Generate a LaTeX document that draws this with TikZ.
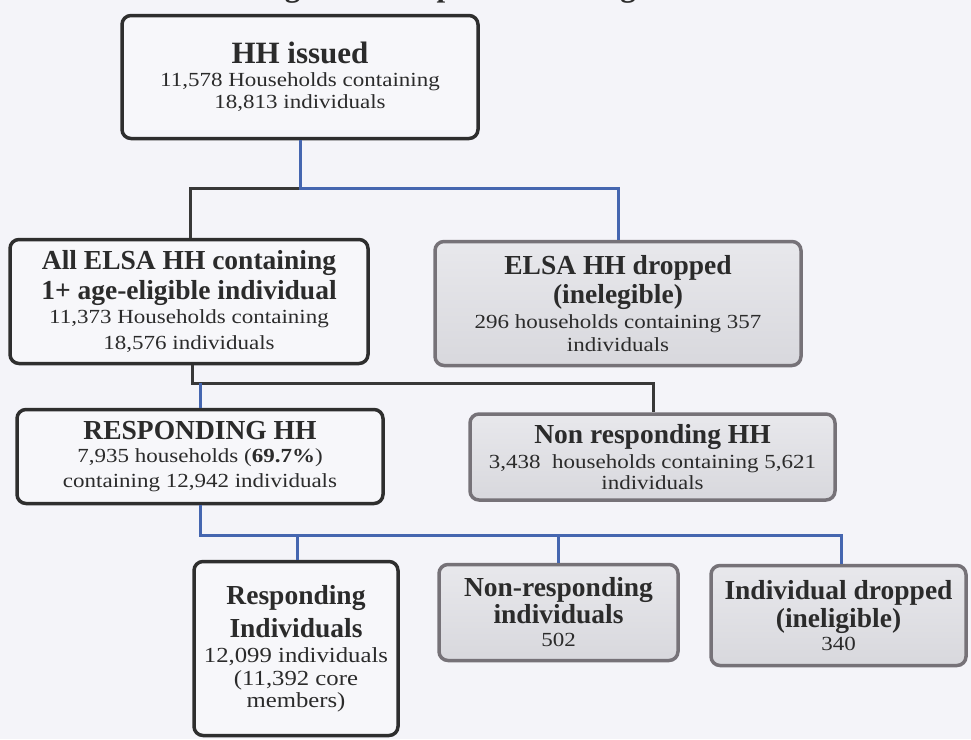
\documentclass[tikz,border=0pt]{standalone}
\usepackage{fontspec}
\setmainfont{Liberation Serif}
\newfontfamily\bodyf{Liberation Serif}[FakeStretch=1.15]
\definecolor{bg}{HTML}{F4F4F9}
\definecolor{txt}{HTML}{2B2B2B}
\definecolor{boxdark}{HTML}{2E2E2E}
\definecolor{boxfill}{HTML}{F7F7FA}
\definecolor{boxgray}{HTML}{767278}
\definecolor{graytop}{HTML}{E8E8EC}
\definecolor{graybot}{HTML}{D8D8DD}
\definecolor{linkblue}{HTML}{4566B0}
\definecolor{linkdark}{HTML}{383838}
\newcommand\bttl{\fontsize{27.5}{29}\rmfamily\bfseries}
\newcommand\bigbody{\fontsize{21.5}{22}\bodyf}
\begin{document}
\begin{tikzpicture}[x=1pt,y=-1pt,
  basebox/.style={line width=3.5pt, rounded corners=9pt, align=center, inner sep=0pt, text=txt,
    font={\fontsize{20}{22}\bodyf\lineskiplimit=-100pt\lineskip=0pt}},
  mainbox/.style={basebox, draw=boxdark, fill=boxfill},
  graybox/.style={basebox, draw=boxgray, top color=graytop, bottom color=graybot},
  bluelink/.style={draw=linkblue, line width=3pt},
  darklink/.style={draw=linkdark, line width=3pt}]
\path[use as bounding box, fill=bg] (0,0) rectangle (971,739);
\clip (0,0) rectangle (971,739);

\node[anchor=base west, text=txt, font=\fontsize{31}{33}\rmfamily\bfseries, inner sep=0pt] (title) at (257,-4) {Figure 1: Response tree diagram};

\node[mainbox, minimum width=356pt, minimum height=123pt] (issued) at (300,77)
  {{\fontsize{31}{33}\rmfamily\bfseries HH issued}\\[1pt]11,578 Households containing\\[0pt]18,813 individuals};

\node[mainbox, minimum width=358pt, minimum height=124pt] (elig) at (189,301.5)
  {{\bttl All ELSA HH containing}\\[8pt]{\bttl 1+ age-eligible individual}\\[2pt]11,373 Households containing\\[4pt]18,576 individuals};

\node[graybox, minimum width=366pt, minimum height=124pt] (dropped) at (618,303.5)
  {{\bttl ELSA HH dropped}\\[7pt]{\bttl (inelegible)}\\[3pt]296 households containing 357\\[1pt]individuals};

\node[mainbox, minimum width=366pt, minimum height=94pt] (resp) at (200,456.5)
  {{\bttl RESPONDING HH}\\[1pt]7,935 households (\textbf{69.7\%})\\[3pt]containing 12,942 individuals};

\node[graybox, minimum width=365pt, minimum height=86pt] (nonresp) at (652.5,457)
  {{\bttl Non responding HH}\\[3pt]3,438\ \ households containing 5,621\\[-1pt]individuals};

\node[mainbox, minimum width=204pt, minimum height=174pt] (respind) at (296,648.5)
  {{\bttl Responding}\\[11pt]{\bttl Individuals}\\[3pt]{\bigbody 12,099 individuals}\\[1pt]{\bigbody (11,392 core}\\[0pt]{\bigbody members)}};

\node[graybox, minimum width=239pt, minimum height=96pt] (nonind) at (558.5,612.5)
  {{\bttl Non-responding}\\[5pt]{\bttl individuals}\\[1pt]502};

\node[graybox, minimum width=255pt, minimum height=100pt] (inddrop) at (838.5,615.5)
  {{\bttl Individual dropped}\\[6pt]{\bttl (ineligible)}\\[1pt]340};

% connectors from HH issued
\coordinate (j1) at (300,188);
\draw[darklink] (j1) -| (elig.north -| 190,0);
\draw[bluelink] (issued.south -| j1) -- (j1) -| (dropped.north);
% connectors from eligible HH
\coordinate (j2) at (192,383);
\draw[darklink] (elig.south -| j2) -- (j2) -| (nonresp.north -| 653,0);
\draw[bluelink] (200,383) -- (resp.north -| 200,0);
% connectors from responding HH
\coordinate (j3) at (200,535);
\draw[bluelink] (resp.south -| j3) -- (j3) -| (inddrop.north -| 841,0);
\draw[bluelink] (297,535) -- (respind.north -| 297,0);
\draw[bluelink] (558,535) -- (nonind.north -| 558,0);
\end{tikzpicture}
\end{document}
